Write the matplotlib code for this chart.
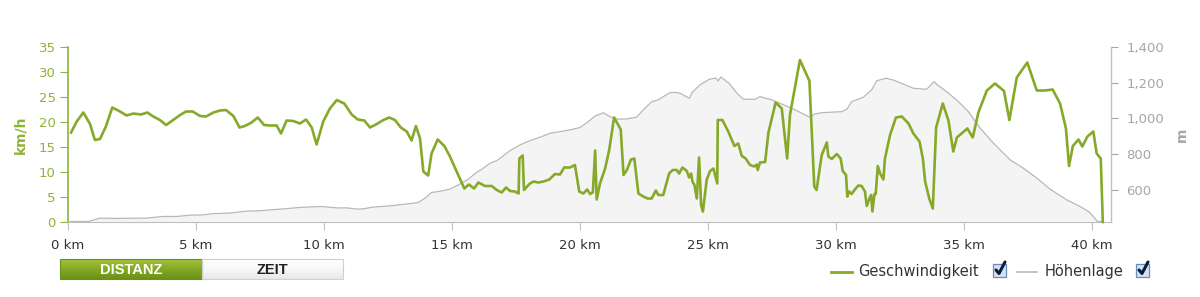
import matplotlib
matplotlib.use("Agg")
import matplotlib.pyplot as plt
import numpy as np
from matplotlib.patches import Rectangle
from matplotlib.ticker import FuncFormatter
from matplotlib.colors import LinearSegmentedColormap

# ---------------- data ----------------
speed_km = [0.12, 0.34, 0.6, 0.86, 1.05, 1.25, 1.48, 1.73, 2.03, 2.29, 2.55, 2.85, 3.1, 3.33, 3.59,
            3.83, 4.11, 4.38, 4.61, 4.87, 5.16, 5.39, 5.68, 5.94, 6.17, 6.46, 6.7, 6.91, 7.17, 7.41,
            7.66, 7.89, 8.15, 8.32, 8.54, 8.8, 9.06, 9.3, 9.52, 9.71, 9.97, 10.23, 10.5, 10.79,
            11.08, 11.32, 11.57, 11.8, 12.06, 12.32, 12.55, 12.77, 13.0, 13.23, 13.42, 13.59,
            13.75, 13.88, 14.07, 14.2, 14.44, 14.7, 14.92, 15.18, 15.48, 15.66, 15.86, 16.03,
            16.29, 16.55, 16.75, 16.94, 17.11, 17.27, 17.46, 17.6, 17.63, 17.76, 17.81, 18.02,
            18.18, 18.37, 18.57, 18.8, 19.02, 19.22, 19.38, 19.61, 19.8, 19.97, 20.13, 20.28,
            20.39, 20.5, 20.59, 20.65, 20.78, 20.98, 21.14, 21.33, 21.59, 21.7, 21.83, 21.99,
            22.12, 22.28, 22.47, 22.64, 22.8, 22.96, 23.06, 23.25, 23.48, 23.62, 23.78, 23.87,
            24.0, 24.17, 24.26, 24.34, 24.39, 24.47, 24.56, 24.65, 24.73, 24.8, 24.95, 25.08,
            25.21, 25.36, 25.38, 25.56, 25.79, 26.03, 26.18, 26.32, 26.47, 26.64, 26.81, 26.9,
            26.94, 27.03, 27.23, 27.36, 27.64, 27.88, 28.09, 28.2, 28.59, 28.96, 29.15, 29.24,
            29.44, 29.64, 29.7, 29.83, 30.03, 30.18, 30.26, 30.39, 30.44, 30.51, 30.61, 30.72,
            30.87, 31.0, 31.13, 31.2, 31.29, 31.37, 31.42, 31.5, 31.55, 31.63, 31.72, 31.85,
            31.91, 32.11, 32.34, 32.57, 32.83, 33.02, 33.26, 33.39, 33.48, 33.64, 33.78, 33.91,
            34.17, 34.39, 34.58, 34.72, 35.13, 35.34, 35.56, 35.89, 36.21, 36.56, 36.77, 37.06,
            37.47, 37.84, 38.16, 38.46, 38.75, 38.98, 39.1, 39.25, 39.47, 39.62, 39.82, 40.05,
            40.18, 40.34, 40.42]
speed_kmh = [17.9, 20.1, 21.9, 19.6, 16.4, 16.6, 19.1, 22.9, 22.1, 21.3, 21.7, 21.5, 21.9, 21.1, 20.4,
             19.4, 20.4, 21.4, 22.1, 22.1, 21.2, 21.1, 21.9, 22.3, 22.4, 21.2, 18.9, 19.2, 19.9, 20.9,
             19.4, 19.3, 19.3, 17.7, 20.3, 20.2, 19.7, 20.5, 18.9, 15.5, 20.1, 22.7, 24.4, 23.7,
             21.5, 20.5, 20.3, 18.9, 19.6, 20.4, 20.9, 20.4, 18.9, 18.1, 16.3, 19.2,
             16.7, 10.1, 9.3, 13.7, 16.5, 15.2, 13.1, 10.1, 6.7, 7.5, 6.7, 7.9,
             7.2, 7.2, 6.4, 5.9, 6.9, 6.2, 6.1, 5.7, 12.7, 13.3, 6.4, 7.6,
             8.1, 7.9, 8.1, 8.5, 9.6, 9.5, 10.9, 10.9, 11.4, 6.1, 5.7, 6.5,
             5.6, 5.9, 14.3, 4.5, 7.7, 10.7, 14.4, 20.9, 18.5, 9.4, 10.4, 12.5,
             12.7, 5.7, 5.1, 4.7, 4.7, 6.3, 5.4, 5.4, 9.7, 10.4, 10.4, 9.7,
             10.9, 10.2, 8.9, 9.7, 8.1, 7.4, 4.7, 12.9, 3.4, 2.1, 8.5, 10.2,
             10.7, 7.7, 20.4, 20.4, 18.1, 15.2, 15.7, 13.2, 12.7, 11.4, 11.1, 11.5,
             10.4, 11.9, 12.0, 17.9, 23.9, 22.7, 12.7, 21.4, 32.4, 28.2, 7.1, 6.4,
             13.4, 15.9, 13.1, 12.6, 13.6, 12.7, 10.2, 9.4, 5.1, 6.1, 5.6, 6.4,
             7.3, 7.2, 6.1, 3.2, 4.5, 5.4, 2.1, 5.6, 5.6, 11.2, 9.7, 8.5,
             12.7, 17.4, 20.9, 21.1, 19.7, 17.7, 16.1, 12.7, 8.1, 4.7, 2.7, 18.9,
             23.7, 20.3, 14.1, 16.9, 18.7, 16.9, 21.9, 26.3, 27.7, 26.2, 20.4, 28.9,
             31.9, 26.3, 26.3, 26.5, 23.7, 18.7, 11.2, 15.2, 16.5, 15.1, 17.1, 18.1,
             13.7, 12.7, 0.0]

elev_km = [0.08, 0.8, 1.25, 1.77, 3.07, 3.72, 4.24, 4.77, 5.29, 5.68, 6.33, 6.98, 7.5, 7.89, 8.3,
           9.1, 9.9, 10.5, 10.89, 11.3, 11.54, 11.9, 12.68, 13.4, 13.68, 13.95, 14.2, 14.6, 14.92,
           15.25, 15.64, 15.93, 16.22, 16.48, 16.75, 17.0, 17.27, 17.66, 18.05, 18.44, 18.83,
           19.22, 19.61, 20.0, 20.32, 20.59, 20.92, 21.11, 21.43, 21.82, 22.21, 22.47, 22.8,
           23.06, 23.25, 23.52, 23.71, 23.91, 24.27, 24.38, 24.7, 25.03, 25.3, 25.4, 25.5, 25.82,
           26.15, 26.38, 26.84, 27.03, 27.49, 28.27, 28.98, 29.18, 29.44, 30.22, 30.42, 30.61,
           31.07, 31.39, 31.59, 31.95, 32.24, 33.02, 33.54, 33.83, 33.93, 34.32, 34.78, 35.17,
           35.63, 36.15, 36.8, 37.32, 37.84, 38.36, 39.01, 39.53, 39.86, 40.05, 40.21, 40.42]
elev_m = [423, 423, 442, 440, 442, 451, 451, 458, 460, 467, 470, 481, 483, 488, 492,
          502, 507, 499, 499, 492, 494, 503, 512, 524, 529, 554, 585, 594, 604,
          628, 660, 695, 721, 749, 764, 790, 820, 852, 876, 895, 917,
          926, 936, 949, 982, 1014, 1032, 1014, 996, 997, 1007, 1048, 1094,
          1104, 1122, 1144, 1146, 1141, 1113, 1145, 1190, 1218, 1226, 1210, 1232, 1197,
          1138, 1108, 1107, 1122, 1104, 1057, 1007, 1025, 1032, 1038, 1051, 1094,
          1119, 1160, 1211, 1225, 1215, 1169, 1163, 1206, 1191, 1150, 1094, 1038,
          945, 861, 768, 721, 666, 604, 544, 507, 479, 451, 423, 423]

x_ticks_km = [0, 5, 10, 15, 20, 25, 30, 35, 40]
speed_ticks = [0, 5, 10, 15, 20, 25, 30, 35]
elev_ticks = [600, 800, 1000, 1200, 1400]

# ---------------- style ----------------
GREEN = "#86a92a"
GREEN_TXT = "#8db33a"
GRAY_LINE = "#b8b8b8"
GRAY_TXT = "#a6a6a6"
FILL = "#f4f4f4"

W, H = 1200, 297
fig = plt.figure(figsize=(W / 100, H / 100), dpi=100)
fig.patch.set_facecolor("white")

x0, x1, ytop, ybot = 68, 1111, 47, 222
ax = fig.add_axes([x0 / W, 1 - ybot / H, (x1 - x0) / W, (ybot - ytop) / H])
ax2 = ax.twinx()
ax.set_zorder(ax2.get_zorder() + 1)
ax.patch.set_visible(False)

# elevation on right axis
ax2.fill_between(elev_km, elev_m, 0, color=FILL, lw=0)
ax2.plot(elev_km, elev_m, color=GRAY_LINE, lw=0.9)
ax2.set_ylim(420, 1400)
ax2.set_yticks(elev_ticks)
ax2.yaxis.set_major_formatter(FuncFormatter(lambda v, p: f"{int(v):,}"))
ax2.tick_params(axis="y", colors=GRAY_TXT, labelcolor=GRAY_TXT, labelsize=9.5, length=5, width=0.8, pad=6)
ax2.set_ylabel("m", color=GRAY_TXT, fontsize=10, fontweight="bold", labelpad=8)

# speed on left axis
ax.plot(speed_km, speed_kmh, color=GREEN, lw=1.9, solid_joinstyle="round", zorder=5, clip_on=False)
ax.set_xlim(0, 40.74)
ax.set_ylim(0, 35)
ax.set_yticks(speed_ticks)
ax.set_xticks(x_ticks_km)
ax.set_xticklabels([f"{k} km" for k in x_ticks_km])
ax.tick_params(axis="y", colors=GREEN_TXT, labelcolor=GREEN_TXT, labelsize=9.5, length=6, width=0.8, pad=3)
ax.tick_params(axis="x", colors="#c0c0c0", labelcolor="#333333", labelsize=9.5, length=6, width=0.8, pad=6)
ax.set_ylabel("km/h", color=GREEN_TXT, fontsize=10, fontweight="bold", labelpad=8)

for a in (ax, ax2):
    a.spines["top"].set_visible(False)
ax.spines["right"].set_visible(False)
ax.spines["left"].set_color(GREEN_TXT)
ax.spines["left"].set_linewidth(1.2)
ax.spines["bottom"].set_color("#c0c0c0")
ax2.spines["left"].set_visible(False)
ax2.spines["bottom"].set_visible(False)
ax2.spines["right"].set_color("#c0c0c0")
ax2.spines["right"].set_linewidth(1.0)

# ---------------- overlay (buttons + legend) ----------------
ov = fig.add_axes([0, 0, 1, 1])
ov.set_xlim(0, W)
ov.set_ylim(H, 0)
ov.axis("off")
ov.patch.set_visible(False)

grad = np.linspace(0, 1, 50).reshape(-1, 1)
gcmap = LinearSegmentedColormap.from_list("g", ["#a3c33b", "#84a924", "#6b9217"])
ov.imshow(grad, extent=(60, 202, 279, 259), cmap=gcmap, aspect="auto", zorder=1)
ov.add_patch(Rectangle((60, 259), 142, 20, fill=False, ec="#6d8f1e", lw=0.8, zorder=2))
ov.text(131, 269.5, "DISTANZ", color="white", fontsize=10.5, fontweight="bold",
        ha="center", va="center", family="Liberation Sans", zorder=3)
wcmap = LinearSegmentedColormap.from_list("w", ["#ffffff", "#f8f8f8", "#e8e8e8"])
ov.imshow(grad, extent=(202, 343, 279, 259), cmap=wcmap, aspect="auto", zorder=1)
ov.add_patch(Rectangle((202, 259), 141, 20, fill=False, ec="#d0d0d0", lw=0.8, zorder=2))
ov.text(272, 269.5, "ZEIT", color="#222222", fontsize=10.5, fontweight="bold",
        ha="center", va="center", family="Liberation Sans", zorder=3)

# legend
def checkbox(xl):
    ov.add_patch(Rectangle((xl, 264), 13, 13, fc="#d3e3f6", ec="#6a8cb8", lw=0.9, zorder=2))
    ov.plot([xl + 3, xl + 6, xl + 12], [270, 273.5, 262], color="#0d1b3a", lw=2.2,
            solid_capstyle="round", solid_joinstyle="round", zorder=3)

ov.plot([831, 852], [272, 272], color=GREEN, lw=2.0)
ov.text(858, 271.5, "Geschwindigkeit", color="#333333", fontsize=10.5, ha="left", va="center")
checkbox(993)
ov.plot([1017, 1037], [272, 272], color=GRAY_LINE, lw=1.2)
ov.text(1045, 271.5, "Höhenlage", color="#333333", fontsize=10.5, ha="left", va="center")
checkbox(1136)

fig.savefig("out.png", dpi=100, facecolor="white")
